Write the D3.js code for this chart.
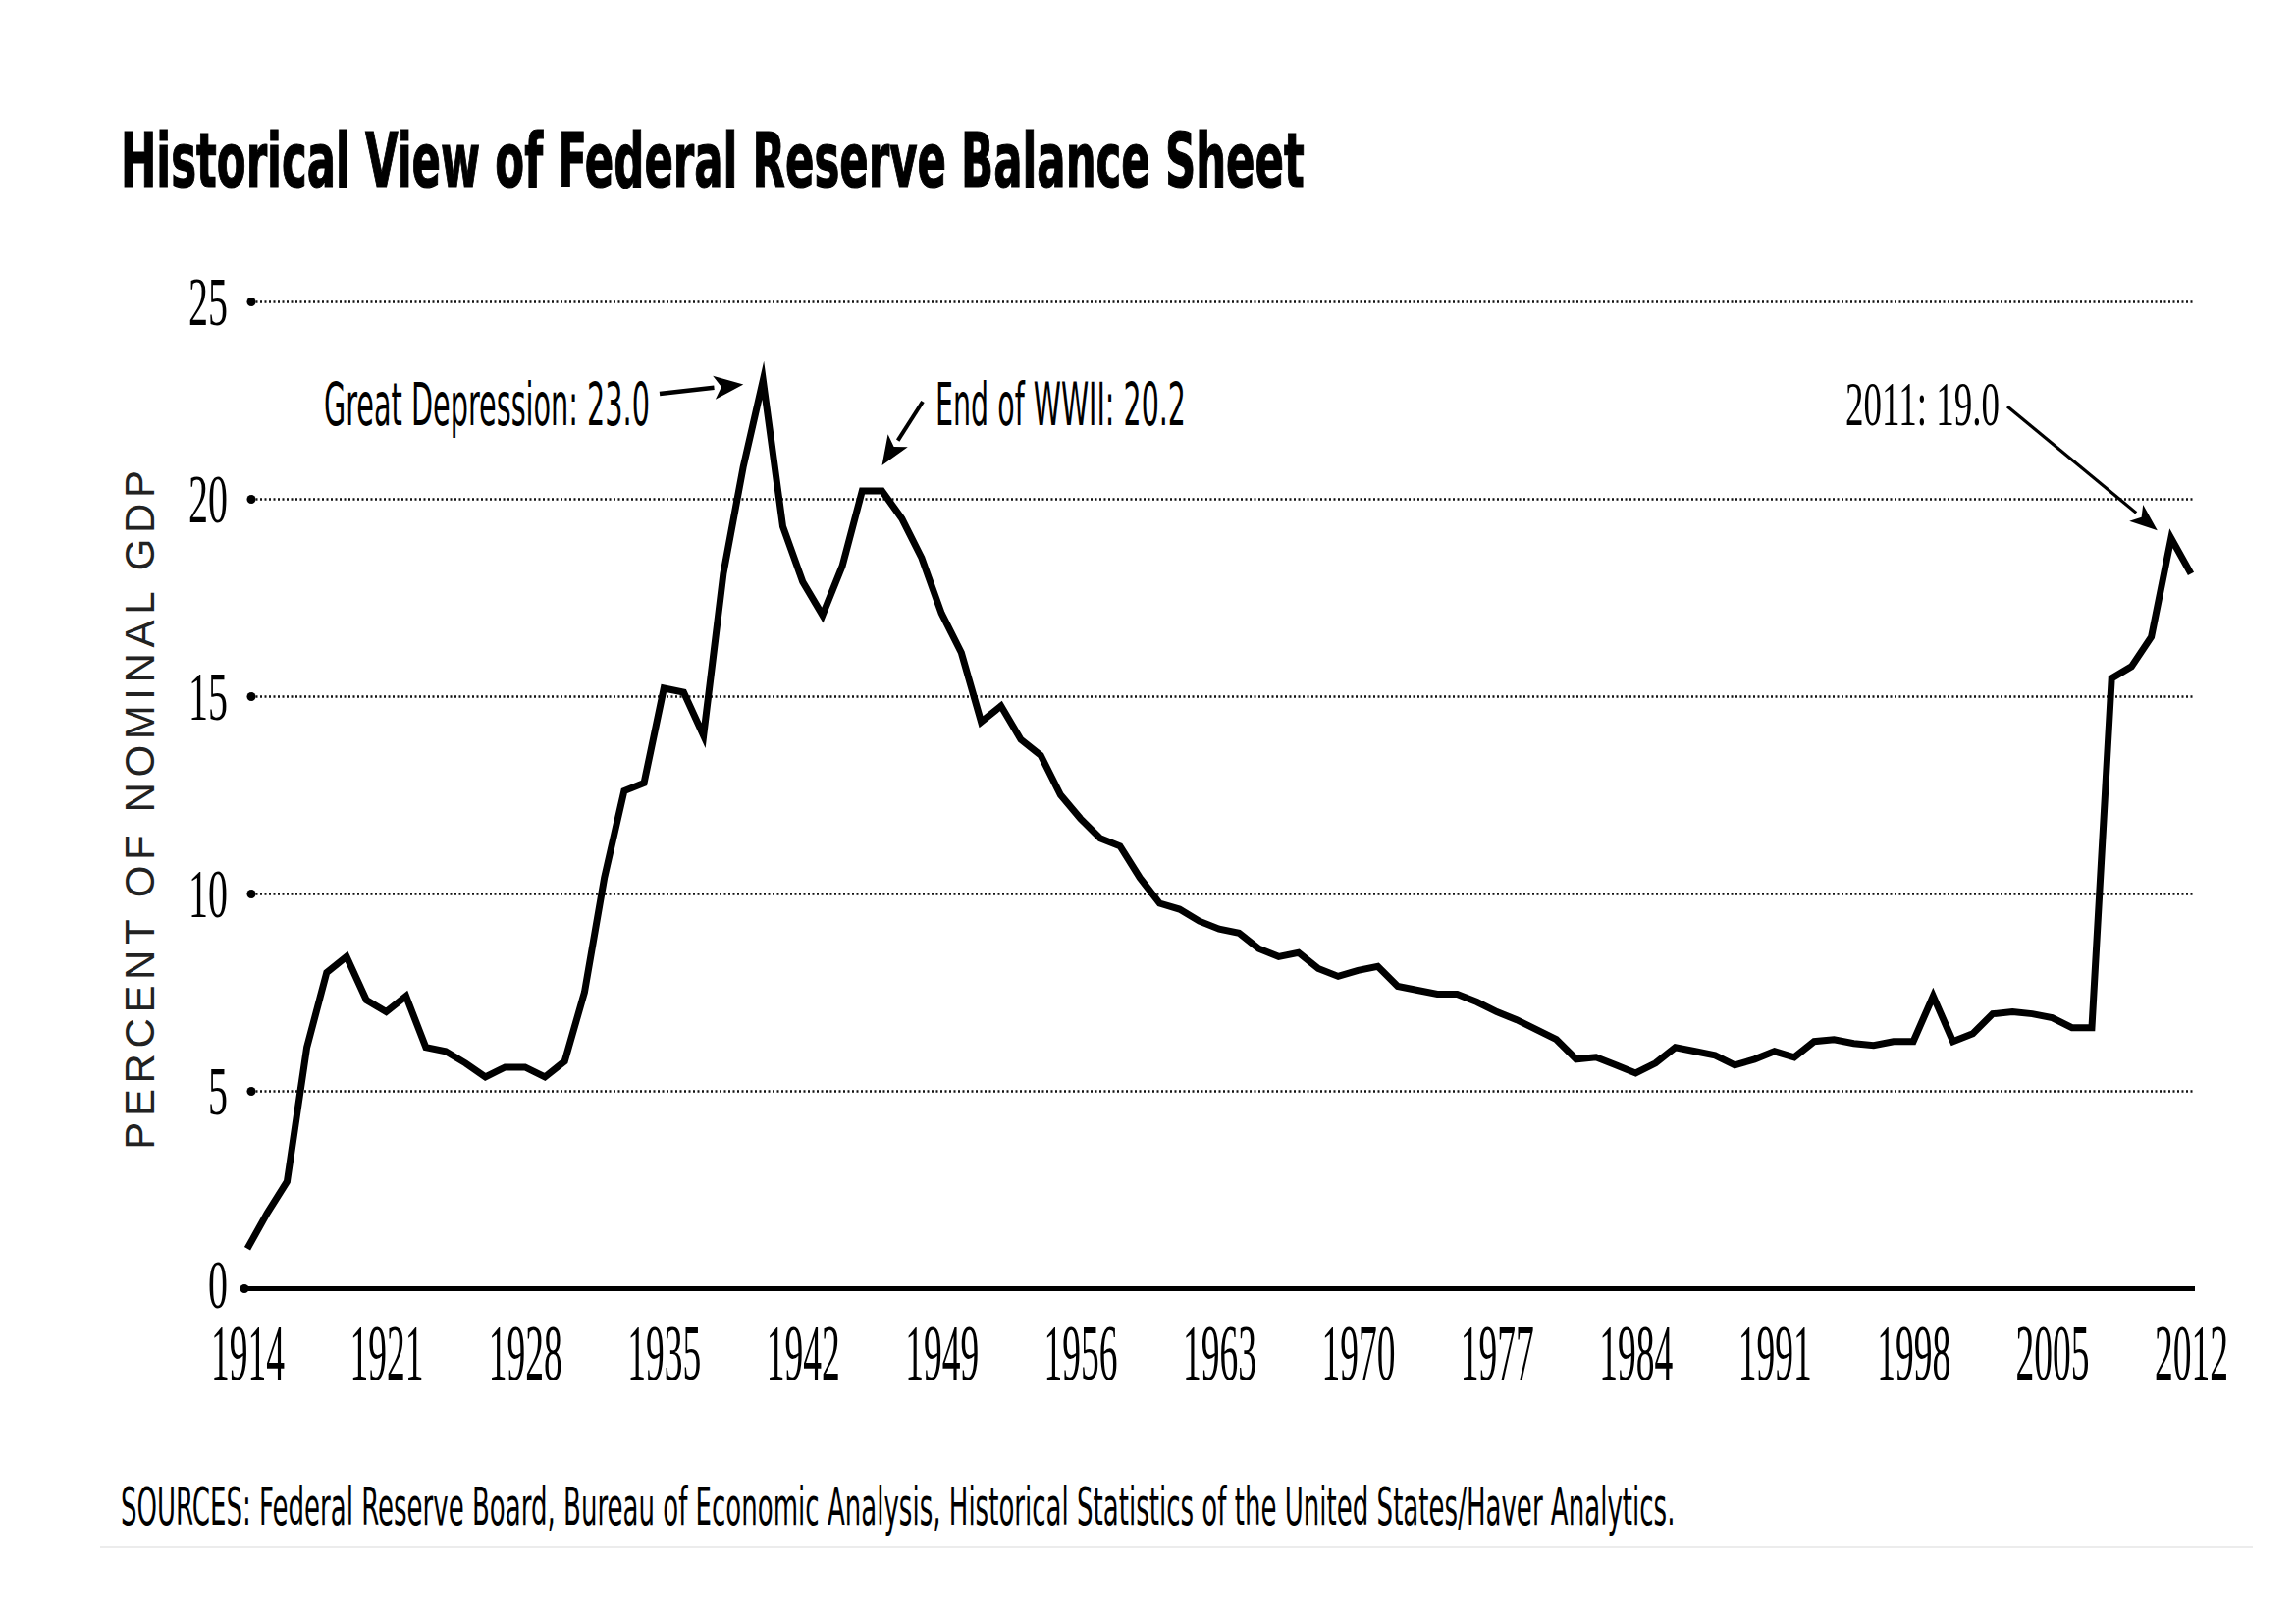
<!DOCTYPE html>
<html>
<head>
<meta charset="utf-8">
<script src="https://cdn.jsdelivr.net/npm/d3@7"></script>
<style>
  html, body { margin: 0; padding: 0; background: #fff; }
  svg { display: block; }
</style>
</head>
<body>
<script>
// Fed balance sheet as % of nominal GDP, 1914-2012

const years = d3.range(1914, 2013);
const balanceSheet = [
  1.0, 1.9, 2.7, 6.1, 8.0, 8.4, 7.3, 7.0, 7.4, 6.1,        // 1914-1923
  6.0, 5.7, 5.35, 5.6, 5.6, 5.35, 5.75, 7.5, 10.4, 12.6,   // 1924-1933
  12.8, 15.2, 15.1, 14.0, 18.1, 20.8, 23.0, 19.3, 17.9, 17.05, // 1934-1943
  18.3, 20.2, 20.2, 19.5, 18.5, 17.1, 16.1, 14.35, 14.75, 13.9, // 1944-1953
  13.5, 12.5, 11.9, 11.4, 11.2, 10.4, 9.75, 9.6, 9.3, 9.1,  // 1954-1963
  9.0, 8.6, 8.4, 8.5, 8.1, 7.9, 8.05, 8.15, 7.65, 7.55,     // 1964-1973
  7.45, 7.45, 7.25, 7.0, 6.8, 6.55, 6.3, 5.8, 5.85, 5.65,   // 1974-1983
  5.45, 5.7, 6.1, 6.0, 5.9, 5.65, 5.8, 6.0, 5.85, 6.25,     // 1984-1993
  6.3, 6.2, 6.15, 6.25, 6.25, 7.4, 6.25, 6.45, 6.95, 7.0,   // 1994-2003
  6.95, 6.85, 6.6, 6.6, 15.45, 15.75, 16.5, 19.0, 18.1      // 2004-2012
];

const yTicks = [0, 5, 10, 15, 20, 25];
const xTicks = d3.range(1914, 2013, 7);

const annotations = [
  { label: "Great Depression: 23.0", year: 1940, value: 23.0 },
  { label: "End of WWII: 20.2", year: 1946, value: 20.2 },
  { label: "2011: 19.0", year: 2011, value: 19.0 }
];

const TITLE = "Historical View of Federal Reserve Balance Sheet";
const Y_TITLE = "PERCENT OF NOMINAL GDP";
const SOURCES = "SOURCES: Federal Reserve Board, Bureau of Economic Analysis, Historical Statistics of the United States/Haver Analytics.";

const W = 2339, H = 1653;
const SANS_NARROW = "'Liberation Sans Narrow', 'DejaVu Sans Condensed', 'Liberation Sans', sans-serif";
const SERIF = "'Liberation Serif', 'DejaVu Serif', serif";

const data = years.map((yr, i) => ({ year: yr, value: balanceSheet[i] }));

// squeeze text horizontally to a target width (the original uses condensed faces)
function fitWidth(sel, widthFn) {
  sel.each(function(d, i) {
    const node = this;
    const natural = node.getComputedTextLength();
    const target = typeof widthFn === 'function' ? widthFn(d, i) : widthFn;
    const s = target / natural;
    const x0 = +(node.getAttribute('x') || 0);
    d3.select(node)
      .attr('x', x0 / s)
      .attr('transform', `scale(${s},1)`);
  });
}

const svg = d3.select('body').append('svg')
  .attr('width', W)
  .attr('height', H);

svg.append('rect').attr('width', W).attr('height', H).attr('fill', '#fff');

const x = d3.scaleLinear().domain([1914, 2012]).range([252, 2232]);
const y = d3.scaleLinear().domain([0, 25]).range([1312, 307]);

const gridLeft = 256, gridRight = 2236;

// Title
svg.append('text')
  .attr('x', 123)
  .attr('y', 190)
  .attr('font-family', SANS_NARROW)
  .attr('font-weight', 'bold')
  .attr('font-size', 76)
  .attr('fill', '#000')
  .attr('stroke', '#000')
  .attr('stroke-width', 1.2)
  .text(TITLE)
  .call(fitWidth, 1206);

// Y axis with dotted gridlines
const yAxis = svg.append('g')
  .attr('transform', `translate(${gridLeft},0)`)
  .call(d3.axisLeft(y)
    .tickValues(yTicks)
    .tickSize(-(gridRight - gridLeft))
    .tickPadding(24)
    .tickFormat(d3.format('d')));

yAxis.select('.domain').remove();

yAxis.selectAll('.tick line')
  .attr('stroke', '#111')
  .attr('stroke-width', 2.5)
  .attr('stroke-dasharray', d => d === 0 ? null : '2,2.5');

yAxis.selectAll('.tick')
  .filter(d => d === 0)
  .select('line')
  .attr('x1', -7)
  .attr('stroke', '#000')
  .attr('stroke-width', 5);

yAxis.selectAll('.tick').append('circle')
  .attr('cx', d => d === 0 ? -7 : 0)
  .attr('r', 4.5)
  .attr('fill', '#000');

yAxis.selectAll('.tick text')
  .attr('font-family', SERIF)
  .attr('font-size', 70)
  .attr('fill', '#000')
  .attr('dy', d => d === 0 ? '0.28em' : '0.33em')
  .call(fitWidth, d => String(d).length * 20);

// X axis labels
const xAxis = svg.append('g')
  .attr('transform', `translate(0,${y(0)})`)
  .call(d3.axisBottom(x)
    .tickValues(xTicks)
    .tickSize(0)
    .tickFormat(d3.format('d')));

xAxis.select('.domain').remove();

xAxis.selectAll('.tick text')
  .attr('y', 93)
  .attr('dy', 0)
  .attr('font-family', SERIF)
  .attr('font-size', 80)
  .attr('fill', '#000')
  .call(fitWidth, 75);

// Y axis title
svg.append('text')
  .attr('transform', 'translate(157,822) rotate(-90)')
  .attr('text-anchor', 'middle')
  .attr('font-family', "'Liberation Sans', Arial, sans-serif")
  .attr('font-size', 42)
  .attr('letter-spacing', 5.6)
  .attr('fill', '#222')
  .text(Y_TITLE);

// The series line
const line = d3.line()
  .x(d => x(d.year))
  .y(d => y(d.value));

svg.append('path')
  .datum(data)
  .attr('fill', 'none')
  .attr('stroke', '#000')
  .attr('stroke-width', 7)
  .attr('stroke-linejoin', 'miter')
  .attr('stroke-miterlimit', 6)
  .attr('d', line);

// Annotations: label + arrow pointing at the data point
function arrow(x1, y1, x2, y2, width, headLen, headHalf) {
  const g = svg.append('g');
  const ang = Math.atan2(y2 - y1, x2 - x1);
  const bx = x2 - headLen * Math.cos(ang), by = y2 - headLen * Math.sin(ang);
  g.append('line')
    .attr('x1', x1).attr('y1', y1)
    .attr('x2', bx).attr('y2', by)
    .attr('stroke', '#000')
    .attr('stroke-width', width);
  const px = -Math.sin(ang) * headHalf, py = Math.cos(ang) * headHalf;
  g.append('path')
    .attr('d', `M${x2},${y2}L${bx + px},${by + py}L${bx + headLen * 0.25 * Math.cos(ang)},${by + headLen * 0.25 * Math.sin(ang)}L${bx - px},${by - py}Z`)
    .attr('fill', '#000');
}

const [gd, ww, y11] = annotations;

svg.append('text')
  .attr('x', 330).attr('y', 433)
  .attr('font-family', SANS_NARROW)
  .attr('font-size', 60)
  .text(gd.label)
  .call(fitWidth, 332);
arrow(672, 401, x(gd.year) - 20, y(gd.value) + 4, 4.5, 30, 12);

svg.append('text')
  .attr('x', 953).attr('y', 433)
  .attr('font-family', SANS_NARROW)
  .attr('font-size', 60)
  .text(ww.label)
  .call(fitWidth, 255);
arrow(940, 409, x(ww.year), y(ww.value) - 26, 4, 30, 12);

svg.append('text')
  .attr('x', 1880).attr('y', 433)
  .attr('font-family', SERIF)
  .attr('font-size', 64)
  .text(y11.label)
  .call(fitWidth, 157);
arrow(2045, 414, x(y11.year) - 14, y(y11.value) - 8, 3.2, 28, 11);

// Sources note
svg.append('text')
  .attr('x', 123).attr('y', 1553)
  .attr('font-family', SANS_NARROW)
  .attr('font-size', 54)
  .attr('fill', '#000')
  .text(SOURCES)
  .call(fitWidth, 1584);

svg.append('line')
  .attr('x1', 102).attr('x2', 2295)
  .attr('y1', 1576).attr('y2', 1576)
  .attr('stroke', '#ececec')
  .attr('stroke-width', 2);
</script>
</body>
</html>
